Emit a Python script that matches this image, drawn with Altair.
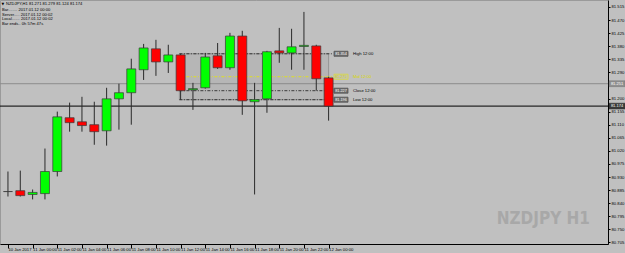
import altair as alt
import pandas as pd

# ---------------- data ----------------
bar_times = ["10 Jan 22:00", "10 Jan 23:00"] + [f"11 Jan {h:02d}:00" for h in range(24)] + ["12 Jan 00:00"]
opens  = [80.880, 80.883, 80.870, 80.873, 80.949, 81.134, 81.120, 81.110, 81.089, 81.199,
          81.220, 81.299, 81.371, 81.326, 81.350, 81.230, 81.237, 81.347, 81.306, 81.415,
          81.189, 81.199, 81.364, 81.357, 81.379, 81.381, 81.271]
highs  = [80.949, 80.952, 80.887, 81.028, 81.155, 81.186, 81.206, 81.189, 81.237, 81.251,
          81.337, 81.388, 81.402, 81.385, 81.354, 81.254, 81.357, 81.391, 81.426, 81.433,
          81.254, 81.364, 81.443, 81.440, 81.498, 81.385, 81.275]
lows   = [80.863, 80.863, 80.853, 80.853, 80.932, 81.086, 81.086, 81.041, 81.038, 81.093,
          81.110, 81.264, 81.278, 81.288, 81.196, 81.161, 81.234, 81.302, 81.299, 81.144,
          80.870, 81.151, 81.323, 81.299, 81.299, 81.227, 81.124]
closes = [80.880, 80.866, 80.877, 80.949, 81.137, 81.117, 81.107, 81.086, 81.199, 81.220,
          81.302, 81.374, 81.326, 81.350, 81.227, 81.234, 81.343, 81.306, 81.415, 81.192,
          81.196, 81.361, 81.357, 81.378, 81.383, 81.268, 81.174]

x_tick_idx = list(range(0, 27, 2))
x_tick_labels = ["10 Jan 2017"] + [f"11 Jan {h:02d}:00" for h in range(0, 24, 2)] + ["12 Jan 00:00"]
y_tick_values = [round(80.705 + 0.045 * k, 3) for k in range(19) if k != 12]

level_names = ["High 12:00", "Mid 12:00", "Close 12:00", "Low 12:00"]
level_prices = [81.354, 81.275, 81.227, 81.196]
level_kind = ["dark", "mid", "dark", "dark"]
zone_start, zone_end, line_end = 13.9, 26.0, 26.35

ask_price = 81.251
bid_price = 81.174

info_lines = ["NZDJPY,H1  81.271 81.279 81.124 81.174",
              "Bar........  2017.01.12 00:00",
              "Server.....  2017.01.12 00:02",
              "Local.......  2017.01.12 00:02",
              "Bar ends..  0h 57m 47s"]
watermark = "NZDJPY H1"

# ---------------- frames ----------------
def col(o, c):
    if c > o:
        return "up"
    if c < o:
        return "down"
    return "doji"

df = pd.DataFrame({"i": list(range(len(opens))), "t": bar_times, "open": opens,
                   "high": highs, "low": lows, "close": closes})
df["dir"] = [col(o, c) for o, c in zip(opens, closes)]

lv = pd.DataFrame({"name": level_names, "price": level_prices, "kind": level_kind,
                   "x0": zone_start, "x1": line_end})
lv["ptxt"] = [f"{p:.3f}" for p in level_prices]
zone = pd.DataFrame({"x0": [zone_start], "x1": [zone_end],
                     "lo": [min(level_prices)], "hi": [max(level_prices)]})
px = pd.DataFrame({"price": [ask_price, bid_price], "kind": ["ask", "bid"]})
px["ptxt"] = [f"{p:.3f}" for p in px["price"]]

XD = [-0.24, 48.25]
YD = [80.6996, 81.539]
label_expr = "[" + ",".join(f"'{s}'" for s in x_tick_labels) + "][round(datum.value/2)]"

xs = alt.Scale(domain=XD, nice=False, zero=False)
ys = alt.Scale(domain=YD, nice=False, zero=False)

x_axis = alt.Axis(values=x_tick_idx, labelExpr=label_expr, orient="bottom", title=None,
                  tickSize=4, labelPadding=-1, labelAlign="left", labelBaseline="top",
                  labelOffset=0, labelFontSize=4.2, labelColor="black", labelFont="Liberation Sans",
                  domainColor="black", tickColor="black", grid=False, labelOverlap=False,
                  labelBound=False, labelFlush=False)
y_axis = alt.Axis(values=y_tick_values, orient="right", title=None, format=".3f",
                  tickSize=2, labelPadding=1, labelFontSize=4.2, labelColor="black",
                  labelFont="Liberation Sans", domainColor="black", tickColor="black",
                  grid=False, labelOverlap=False, labelBound=False, labelFlush=False,
                  labelSeparation=0)


def X(field):
    return alt.X(field, scale=xs, axis=x_axis)


def Y(field):
    return alt.Y(field, scale=ys, axis=y_axis)


base = alt.Chart(df)
color_scale = alt.Scale(domain=["up", "down", "doji"], range=["#00ff00", "#ff0000", "#202020"])

zone_rect = alt.Chart(zone).mark_rect(fill="#b6b6b6", stroke="#8a8a8a", strokeWidth=0.8, clip=True).encode(
    x=X("x0:Q"), x2="x1:Q", y=Y("lo:Q"), y2="hi:Q")

lvl_lines = alt.Chart(lv).mark_rule(strokeWidth=0.8, strokeDash=[3, 1.5, 1, 1.5], clip=True).encode(
    x=X("x0:Q"), x2="x1:Q", y=Y("price:Q"),
    color=alt.Color("kind:N", scale=alt.Scale(domain=["dark", "mid"], range=["#1a1a1a", "#e8e800"]), legend=None))

ask_line = alt.Chart(px).mark_rule(strokeWidth=1).encode(
    y=Y("price:Q"), x=alt.value(0), x2=alt.value(608),
    color=alt.Color("kind:N", scale=alt.Scale(domain=["ask", "bid"], range=["#8c8c8c", "#000000"]), legend=None))

wicks = base.mark_rule(color="#2a2a2a", strokeWidth=1, clip=True).encode(
    x=X("i:Q"), y=Y("low:Q"), y2="high:Q")

bodies = base.mark_bar(size=9, stroke="#3a3a3a", strokeWidth=0.7, clip=True, orient="vertical").encode(
    x=X("i:Q"), y=Y("open:Q"), y2="close:Q",
    color=alt.Color("dir:N", scale=color_scale, legend=None))

box_shape = "M-1,-0.36L1,-0.36L1,0.36L-1,0.36Z"
lvl_boxes = alt.Chart(lv).mark_point(shape=box_shape, size=196, filled=True, strokeWidth=0.8).encode(
    x=alt.value(341), y=Y("price:Q"),
    fill=alt.Fill("kind:N", scale=alt.Scale(domain=["dark", "mid"], range=["#4a4a4a", "#c4c4b0"]), legend=None),
    stroke=alt.Stroke("kind:N", scale=alt.Scale(domain=["dark", "mid"], range=["#2a2a2a", "#e8e800"]), legend=None))
lvl_box_txt = alt.Chart(lv).mark_text(fontSize=3.8, font="Liberation Sans", baseline="middle", align="center").encode(
    x=alt.value(341), y=Y("price:Q"), text="ptxt:N",
    color=alt.Color("kind:N", scale=alt.Scale(domain=["dark", "mid"], range=["#ffffff", "#d8d800"]), legend=None))
lvl_names = alt.Chart(lv).mark_text(fontSize=4.2, font="Liberation Sans", baseline="middle", align="left").encode(
    x=alt.value(353), y=Y("price:Q"), text="name:N",
    color=alt.Color("kind:N", scale=alt.Scale(domain=["dark", "mid"], range=["#000000", "#d8d800"]), legend=None))

px_boxes = alt.Chart(px).mark_point(shape=box_shape, size=256, filled=True, strokeWidth=0.6).encode(
    x=alt.value(617), y=Y("price:Q"),
    fill=alt.Fill("kind:N", scale=alt.Scale(domain=["ask", "bid"], range=["#7c7c7c", "#000000"]), legend=None),
    stroke=alt.Stroke("kind:N", scale=alt.Scale(domain=["ask", "bid"], range=["#5a5a5a", "#000000"]), legend=None))
px_txt = alt.Chart(px).mark_text(fontSize=4.0, font="Liberation Sans", baseline="middle", align="center", color="#ffffff").encode(
    x=alt.value(617), y=Y("price:Q"), text="ptxt:N")

info_layers = [alt.Chart(pd.DataFrame({"t": ["▼"]})).mark_text(
    fontSize=3.5, font="DejaVu Sans", align="left", baseline="middle", color="black").encode(
    x=alt.value(1.5), y=alt.value(4), text="t:N")]
info_y = [4, 10, 14.5, 19, 23.7]
for k, line in enumerate(info_lines):
    info_layers.append(alt.Chart(pd.DataFrame({"t": [line]})).mark_text(
        fontSize=4.1, font="Liberation Sans", align="left", baseline="middle", color="black").encode(
        x=alt.value(6 if k == 0 else 2), y=alt.value(info_y[k]), text="t:N"))

wm = alt.Chart(pd.DataFrame({"t": [watermark]})).mark_text(
    fontSize=17, fontWeight="bold", font="Liberation Sans Narrow, DejaVu Sans Condensed, Liberation Sans",
    align="right", baseline="alphabetic", color="#a8a8a8").encode(
    x=alt.value(590), y=alt.value(224), text="t:N")

chart = alt.layer(zone_rect, wm, ask_line, lvl_lines, wicks, bodies, lvl_boxes, lvl_box_txt, lvl_names,
                  px_boxes, px_txt, *info_layers).resolve_scale(color="independent", fill="independent",
                  stroke="independent").properties(
    width=608, height=244, padding={"left": 0, "top": 0, "right": 17, "bottom": 9},
    autosize=alt.AutoSizeParams(type="none"),
    background="#c0c0c0").configure_view(stroke="#9a9a9a", strokeWidth=1).configure_axis(
    labelOverlap=False, labelSeparation=0)

chart.save("out.html", embed_options={"renderer": "svg", "actions": False})
